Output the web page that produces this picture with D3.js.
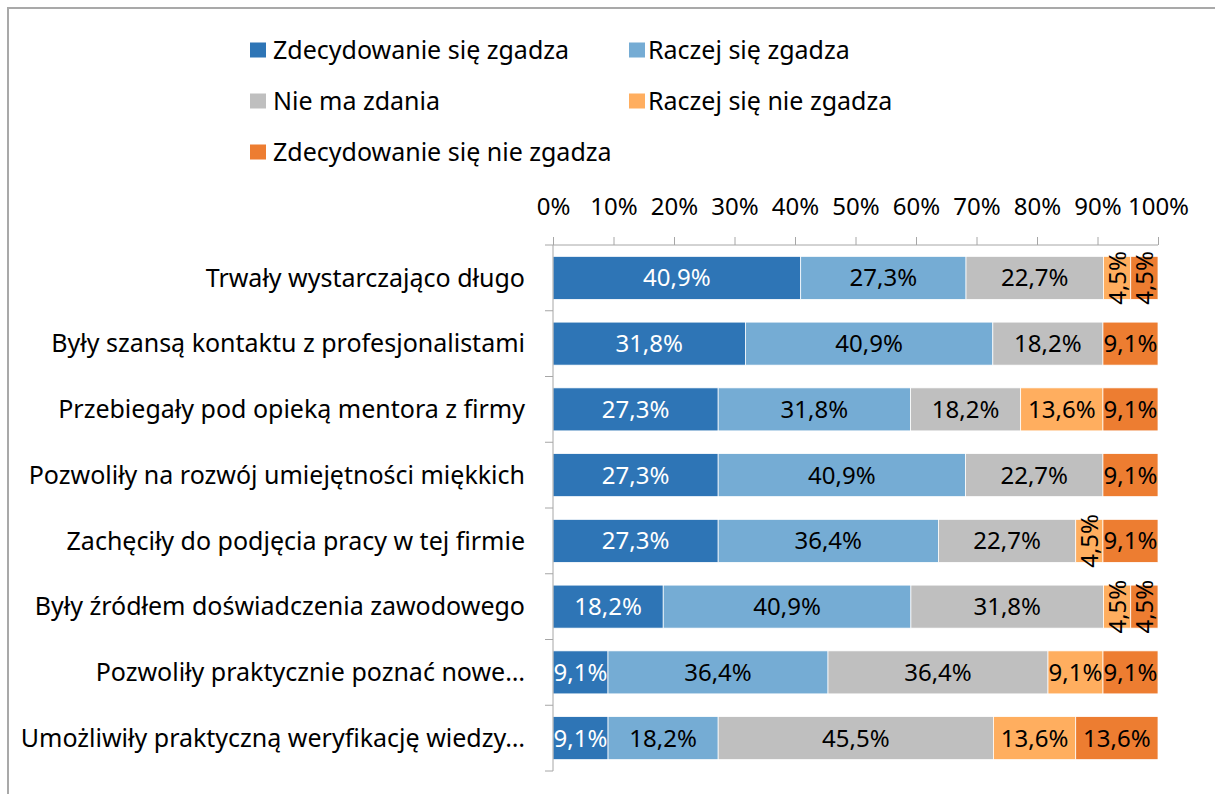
<!DOCTYPE html>
<html>
<head>
<meta charset="utf-8">
<script src="https://cdn.jsdelivr.net/npm/d3@7"></script>
<style>
  html, body { margin: 0; padding: 0; background: #fff; }
  svg { display: block; }
  text { font-family: "Noto Sans", "Open Sans", sans-serif; fill: #000; }
</style>
</head>
<body>
<svg id="chart" width="1215" height="794"></svg>
<script>
const categories = [
  "Trwały wystarczająco długo",
  "Były szansą kontaktu z profesjonalistami",
  "Przebiegały pod opieką mentora z firmy",
  "Pozwoliły na rozwój umiejętności miękkich",
  "Zachęciły do podjęcia pracy w tej firmie",
  "Były źródłem doświadczenia zawodowego",
  "Pozwoliły praktycznie poznać nowe…",
  "Umożliwiły praktyczną weryfikację wiedzy…"
];
const seriesNames = [
  "Zdecydowanie się zgadza",
  "Raczej się zgadza",
  "Nie ma zdania",
  "Raczej się nie zgadza",
  "Zdecydowanie się nie zgadza"
];
const zdecydowanieZgadza   = [40.9, 31.8, 27.3, 27.3, 27.3, 18.2, 9.1, 9.1];
const raczejZgadza         = [27.3, 40.9, 31.8, 40.9, 36.4, 40.9, 36.4, 18.2];
const nieMaZdania          = [22.7, 18.2, 18.2, 22.7, 22.7, 31.8, 36.4, 45.5];
const raczejNieZgadza      = [4.5, 0, 13.6, 0, 4.5, 4.5, 9.1, 13.6];
const zdecydowanieNieZgadza= [4.5, 9.1, 9.1, 9.1, 9.1, 4.5, 9.1, 13.6];
const tickValues = [0, 10, 20, 30, 40, 50, 60, 70, 80, 90, 100];
const colors = ["#2E75B6", "#75ACD4", "#BFBFBF", "#FFAE5F", "#ED7D31"];
const labelColors = ["#fff", "#000", "#000", "#000", "#000"];

const seriesValues = [zdecydowanieZgadza, raczejZgadza, nieMaZdania, raczejNieZgadza, zdecydowanieNieZgadza];

const rows = categories.map((c, i) => {
  const r = { category: c };
  seriesNames.forEach((s, k) => r[s] = seriesValues[k][i]);
  return r;
});

const svg = d3.select("#chart");
const FS_TXT = 25;
const FS_NUM = 24;

// border
svg.append("rect")
  .attr("x", 8).attr("y", 8)
  .attr("width", 1230).attr("height", 800)
  .attr("fill", "none").attr("stroke", "#a9a9a9").attr("stroke-width", 2);

const x0 = 553, x1 = 1158, yTop = 245, yBot = 771;
const x = d3.scaleLinear().domain([0, 100]).range([x0, x1]);
const p = 0.346;
const y = d3.scaleBand().domain(categories).range([yTop, yBot]).paddingInner(p).paddingOuter(p / 2);

// stack normalized (100% stacked)
const stack = d3.stack().keys(seriesNames).offset(d3.stackOffsetExpand);
const stacked = stack(rows);

// legend
const legendPos = [
  { x: 250, y: 50, tx: 273 }, { x: 629, y: 50, tx: 648 },
  { x: 250, y: 101, tx: 273 }, { x: 629, y: 101, tx: 648 },
  { x: 250, y: 152, tx: 273 }
];
const lg = svg.append("g");
seriesNames.forEach((s, k) => {
  const pos = legendPos[k];
  lg.append("rect").attr("x", pos.x).attr("y", pos.y - 7.5).attr("width", 16).attr("height", 15).attr("fill", colors[k]);
  lg.append("text").attr("x", pos.tx).attr("y", pos.y).attr("dy", "0.35em")
    .style("font-size", FS_TXT + "px").text(s);
});

// bars
const gBars = svg.append("g");
stacked.forEach((layer, k) => {
  gBars.selectAll(null).data(layer.filter(d => d[1] - d[0] > 0)).enter().append("rect")
    .attr("x", d => x(d[0] * 100))
    .attr("y", d => y(d.data.category))
    .attr("width", d => x(d[1] * 100) - x(d[0] * 100))
    .attr("height", y.bandwidth())
    .attr("fill", colors[k])
    .attr("stroke", "#fff").attr("stroke-width", 0.75);
});

// labels
const gLab = svg.append("g");
const fmt = v => v.toFixed(1).replace(".", ",") + "%";
stacked.forEach((layer, k) => {
  layer.forEach((d, i) => {
    const v = seriesValues[k][i];
    if (!(v > 0)) return;
    const cx = (x(d[0] * 100) + x(d[1] * 100)) / 2;
    const cy = y(d.data.category) + y.bandwidth() / 2;
    const t = gLab.append("text")
      .attr("text-anchor", "middle").attr("dy", "0.35em")
      .style("font-size", FS_NUM + "px")
      .style("fill", labelColors[k])
      .text(fmt(v));
    if (v < 6) {
      t.attr("transform", `translate(${cx},${cy}) rotate(-90)`);
    } else {
      t.attr("x", cx).attr("y", cy);
    }
  });
});

// top axis
const axisColor = "#a6a6a6";
const gx = svg.append("g").attr("transform", `translate(0,${yTop})`)
  .call(d3.axisTop(x).tickValues(tickValues).tickSize(8).tickPadding(22).tickFormat(d => d + "%"));
gx.select(".domain").attr("stroke", axisColor).attr("d", `M${x0},0H${x1}`);
gx.selectAll(".tick line").attr("stroke", axisColor);
gx.selectAll(".tick text").style("font-size", FS_NUM + "px").style("font-family", '"Noto Sans", sans-serif').attr("fill", "#000");

// left axis
const gy = svg.append("g").attr("transform", `translate(${x0},0)`);
gy.append("line").attr("x1", 0).attr("x2", 0).attr("y1", yTop).attr("y2", yBot).attr("stroke", axisColor);
const bounds = d3.range(categories.length + 1).map(i => yTop + i * y.step());
gy.selectAll(null).data(bounds).enter().append("line")
  .attr("x1", -8).attr("x2", 0).attr("y1", d => d).attr("y2", d => d).attr("stroke", axisColor);
gy.selectAll(null).data(categories).enter().append("text")
  .attr("x", -28).attr("y", d => y(d) + y.bandwidth() / 2).attr("dy", "0.35em")
  .attr("text-anchor", "end").style("font-size", FS_TXT + "px").text(d => d);
</script>
</body>
</html>
